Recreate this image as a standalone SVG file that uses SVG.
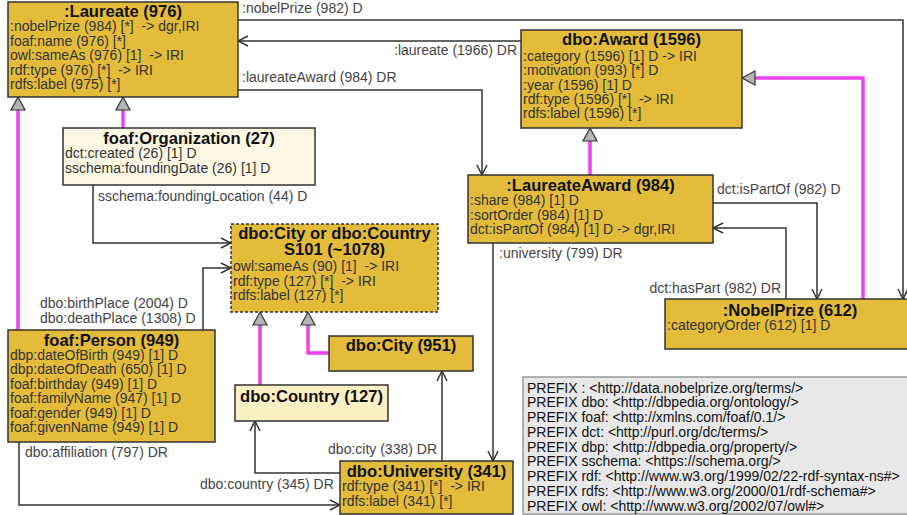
<svg xmlns="http://www.w3.org/2000/svg" width="907" height="515" viewBox="0 0 907 515" xml:space="preserve">
<style>
text{font-family:"Liberation Sans",Arial,sans-serif;font-size:14px;fill:#333;white-space:pre}
.t{font-weight:bold;font-size:16.6px;fill:#111;text-anchor:middle}
.box{fill:#e3bc3b;stroke:#333;stroke-width:1.5}
.org{fill:#fdf8e3;stroke:#333;stroke-width:1.5}
.cty{fill:#fbefc3;stroke:#333;stroke-width:1.5}
.dash{stroke-dasharray:3 2}
.pre{fill:#e8e8e8;stroke:#999;stroke-width:1.5}
.pt{fill:#111}
.c{fill:none;stroke:#333;stroke-width:1.5;marker-end:url(#arr)}
.lbl{fill:#444}
.inh{fill:none;stroke:#ee40ee;stroke-width:3.5}
.tri{fill:#b4b4b4;stroke:#333;stroke-width:1.2}
</style>
<defs>
<marker id="arr" viewBox="0 0 12 12" refX="11" refY="6" markerWidth="12" markerHeight="12" markerUnits="userSpaceOnUse" orient="auto">
<path d="M1,1 L11,6 L1,11" fill="none" stroke="#333" stroke-width="1.5"/>
</marker>
</defs>
<g id="connectors">
<path class="c" d="M238,20 H903 V299"/>
<path class="c" d="M521,41 H238"/>
<path class="c" d="M238,90 H482 V175"/>
<path class="c" d="M713,203 H817 V299"/>
<path class="c" d="M786,299 V228 H713"/>
<path class="c" d="M493,243 V461"/>
<path class="c" d="M93,185 V243 H231"/>
<path class="c" d="M203,330 V268 H231"/>
<path class="c" d="M19,442 V505 H340"/>
<path class="c" d="M442,461 V371"/>
<path class="c" d="M340,473 H255 V421"/>
<text class="lbl" x="242" y="13">:nobelPrize (982) D</text>
<text class="lbl" x="517" y="55" text-anchor="end">:laureate (1966) DR</text>
<text class="lbl" x="242" y="82">:laureateAward (984) DR</text>
<text class="lbl" x="98" y="201">sschema:foundingLocation (44) D</text>
<text class="lbl" x="40" y="308">dbo:birthPlace (2004) D</text>
<text class="lbl" x="40" y="323">dbo:deathPlace (1308) D</text>
<text class="lbl" x="717" y="194">dct:isPartOf (982) D</text>
<text class="lbl" x="781" y="293" text-anchor="end">dct:hasPart (982) DR</text>
<text class="lbl" x="499" y="258">:university (799) DR</text>
<text class="lbl" x="25" y="457">dbo:affiliation (797) DR</text>
<text class="lbl" x="437" y="454" text-anchor="end">dbo:city (338) DR</text>
<text class="lbl" x="200" y="489">dbo:country (345) DR</text>
<path class="inh" d="M18,110 V330"/>
<path class="inh" d="M123,110 V128"/>
<path class="inh" d="M590,141 V175"/>
<path class="inh" d="M863,299 V78 H755"/>
<path class="inh" d="M260,325 V385"/>
<path class="inh" d="M308,325 V353 H329"/>
<path class="tri" d="M18,97 L25,110 L11,110 Z"/>
<path class="tri" d="M123,97 L130,110 L116,110 Z"/>
<path class="tri" d="M590,128 L597,141 L583,141 Z"/>
<path class="tri" d="M742,78 L755,71 L755,85 Z"/>
<path class="tri" d="M260,312 L267,325 L253,325 Z"/>
<path class="tri" d="M308,312 L315,325 L301,325 Z"/>
</g>
<g id="laureate">
<rect class="box" x="8" y="2" width="230" height="95"/>
<text class="t" x="123" y="17">:Laureate (976)</text>
<text x="10" y="31">:nobelPrize (984) [*]  -&gt; dgr,IRI</text>
<text x="10" y="45.5">foaf:name (976) [*]</text>
<text x="10" y="60">owl:sameAs (976) [1]  -&gt; IRI</text>
<text x="10" y="74.5">rdf:type (976) [*]  -&gt; IRI</text>
<text x="10" y="89">rdfs:label (975) [*]</text>
</g>
<g id="award">
<rect class="box" x="521" y="30" width="221" height="98"/>
<text class="t" x="631.5" y="45">dbo:Award (1596)</text>
<text x="523" y="61">:category (1596) [1] D -&gt; IRI</text>
<text x="523" y="75.3">:motivation (993) [*] D</text>
<text x="523" y="89.6">:year (1596) [1] D</text>
<text x="523" y="103.9">rdf:type (1596) [*]  -&gt; IRI</text>
<text x="523" y="118.2">rdfs:label (1596) [*]</text>
</g>
<g id="organization">
<rect class="org" x="63" y="128" width="252" height="57"/>
<text class="t" x="189" y="144">foaf:Organization (27)</text>
<text x="65" y="158">dct:created (26) [1] D</text>
<text x="65" y="173">sschema:foundingDate (26) [1] D</text>
</g>
<g id="laureateAward">
<rect class="box" x="468" y="175" width="245" height="68"/>
<text class="t" x="590.5" y="191">:LaureateAward (984)</text>
<text x="470" y="205">:share (984) [1] D</text>
<text x="470" y="219.5">:sortOrder (984) [1] D</text>
<text x="470" y="234">dct:isPartOf (984) [1] D -&gt; dgr,IRI</text>
</g>
<g id="cityOrCountry">
<rect class="box dash" x="231" y="224" width="207" height="88"/>
<text class="t" x="334.5" y="239">dbo:City or dbo:Country</text>
<text class="t" x="334.5" y="255">S101 (~1078)</text>
<text x="233" y="271">owl:sameAs (90) [1]  -&gt; IRI</text>
<text x="233" y="285.5">rdf:type (127) [*]  -&gt; IRI</text>
<text x="233" y="300">rdfs:label (127) [*]</text>
</g>
<g id="nobelPrize">
<rect class="box" x="665" y="299" width="250" height="50"/>
<text class="t" x="790" y="316">:NobelPrize (612)</text>
<text x="667" y="330">:categoryOrder (612) [1] D</text>
</g>
<g id="person">
<rect class="box" x="8" y="330" width="207" height="112"/>
<text class="t" x="111.5" y="346">foaf:Person (949)</text>
<text x="10" y="360">dbp:dateOfBirth (949) [1] D</text>
<text x="10" y="374.4">dbp:dateOfDeath (650) [1] D</text>
<text x="10" y="388.8">foaf:birthday (949) [1] D</text>
<text x="10" y="403.2">foaf:familyName (947) [1] D</text>
<text x="10" y="417.6">foaf:gender (949) [1] D</text>
<text x="10" y="432">foaf:givenName (949) [1] D</text>
</g>
<g id="city">
<rect class="box" x="329" y="336" width="144" height="35"/>
<text class="t" x="401" y="351">dbo:City (951)</text>
</g>
<g id="country">
<rect class="cty" x="235" y="385" width="153" height="36"/>
<text class="t" x="311.5" y="401.5">dbo:Country (127)</text>
</g>
<g id="university">
<rect class="box" x="340" y="461" width="173" height="53"/>
<text class="t" x="426.5" y="476.5">dbo:University (341)</text>
<text x="342" y="490.5">rdf:type (341) [*]  -&gt; IRI</text>
<text x="342" y="505.5">rdfs:label (341) [*]</text>
</g>
<g id="prefixes">
<rect class="pre" x="523" y="377" width="400" height="137"/>
<text class="pt" x="527" y="392.5">PREFIX : &lt;http://data.nobelprize.org/terms/&gt;</text>
<text class="pt" x="527" y="407.3">PREFIX dbo: &lt;http://dbpedia.org/ontology/&gt;</text>
<text class="pt" x="527" y="422">PREFIX foaf: &lt;http://xmlns.com/foaf/0.1/&gt;</text>
<text class="pt" x="527" y="436.8">PREFIX dct: &lt;http://purl.org/dc/terms/&gt;</text>
<text class="pt" x="527" y="451.5">PREFIX dbp: &lt;http://dbpedia.org/property/&gt;</text>
<text class="pt" x="527" y="466.3">PREFIX sschema: &lt;https://schema.org/&gt;</text>
<text class="pt" x="527" y="481">PREFIX rdf: &lt;http://www.w3.org/1999/02/22-rdf-syntax-ns#&gt;</text>
<text class="pt" x="527" y="495.8">PREFIX rdfs: &lt;http://www.w3.org/2000/01/rdf-schema#&gt;</text>
<text class="pt" x="527" y="510.5">PREFIX owl: &lt;http://www.w3.org/2002/07/owl#&gt;</text>
</g>
</svg>
